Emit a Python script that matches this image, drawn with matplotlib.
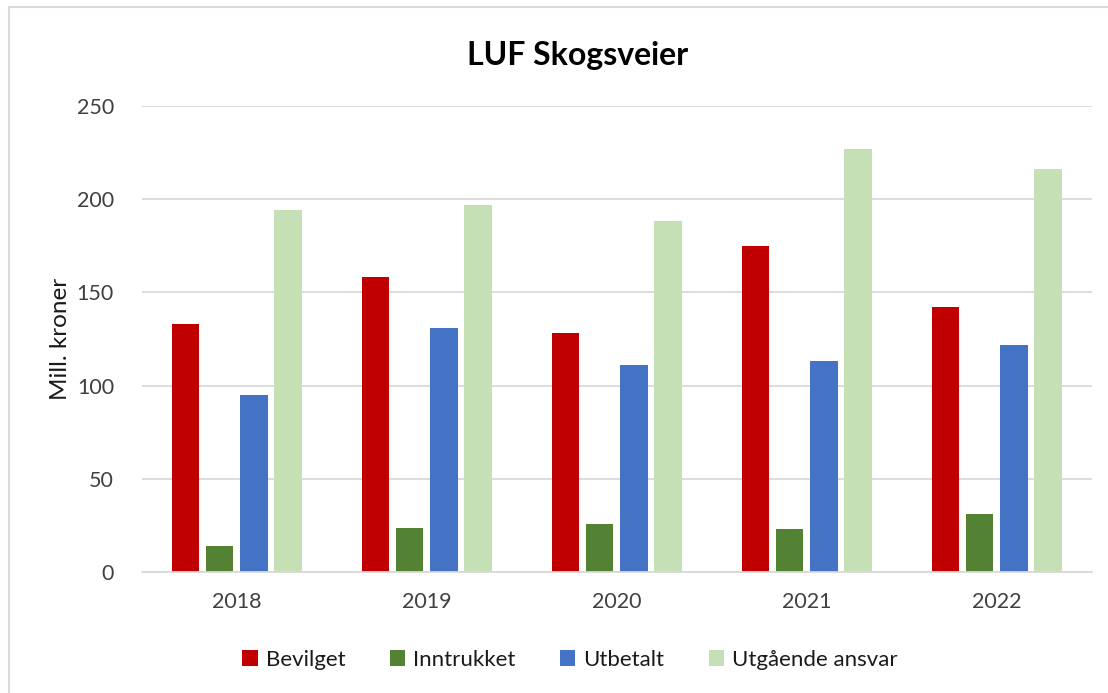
import matplotlib
matplotlib.use("Agg")
import matplotlib.pyplot as plt
from matplotlib.patches import Patch
from matplotlib.lines import Line2D
import numpy as np

years = ["2018", "2019", "2020", "2021", "2022"]
series_names = ["Bevilget", "Inntrukket", "Utbetalt", "Utgående ansvar"]
bevilget = [133, 158, 128, 175, 142]
inntrukket = [14, 24, 26, 23, 31]
utbetalt = [95, 131, 111, 113, 122]
utgaende = [194, 197, 188, 227, 216]
colors = ["#C00000", "#548235", "#4472C4", "#C5E0B4"]
yticks = [0, 50, 100, 150, 200, 250]

plt.rcParams['font.family'] = ['Lato', 'DejaVu Sans']

fig = plt.figure(figsize=(11.08, 6.93), dpi=100)
ax = fig.add_axes([141.7/1108, 1-572.3/693, (1091.7-141.7)/1108, (572.3-105.7)/693])

x = np.arange(len(years))
step = 0.1805
width = 0.144
all_series = [bevilget, inntrukket, utbetalt, utgaende]
for i, (vals, c, name) in enumerate(zip(all_series, colors, series_names)):
    ax.bar(x + (i - 1.5) * step, vals, width=width, color=c, label=name, zorder=3)

ax.set_xlim(-0.5, len(years) - 0.5)
ax.set_ylim(0, 250)
ax.set_yticks(yticks)
ax.set_xticks(x)
ax.set_xticklabels(years)
ax.grid(axis='y', color='#d9d9d9', linewidth=1.3, zorder=0)
for s in ['top', 'right', 'left']:
    ax.spines[s].set_visible(False)
ax.spines['bottom'].set_color('#d9d9d9')
ax.spines['bottom'].set_linewidth(1.3)
ax.spines['bottom'].set_zorder(4)
ax.tick_params(axis='both', length=0, labelsize=15.5, colors='#404040')
ax.tick_params(axis='y', pad=20)
ax.tick_params(axis='x', pad=14)

ax.set_ylabel("Mill. kroner", fontsize=17.5, color='#1a1a1a', labelpad=4)
fig.text(578/1108, 1-55/693, "LUF Skogsveier", ha='center', va='center',
         fontsize=23, fontweight='bold', color='#000000')

handles = [Patch(facecolor=c, edgecolor='none') for c in colors]
fig.legend(handles, series_names, loc='center', bbox_to_anchor=(570/1108, 1-660/693),
           ncol=4, frameon=False, fontsize=16, handlelength=0.7, handleheight=0.7,
           handletextpad=0.35, columnspacing=2.0, labelcolor='#1a1a1a')

# chart border (top and left visible)
fig.add_artist(Line2D([8.5/1108, 8.5/1108], [0, 1-7/693], color='#d9d9d9', linewidth=1.5, transform=fig.transFigure))
fig.add_artist(Line2D([8.5/1108, 1], [1-7/693, 1-7/693], color='#d9d9d9', linewidth=1.5, transform=fig.transFigure))

fig.savefig("out.png", dpi=100)
